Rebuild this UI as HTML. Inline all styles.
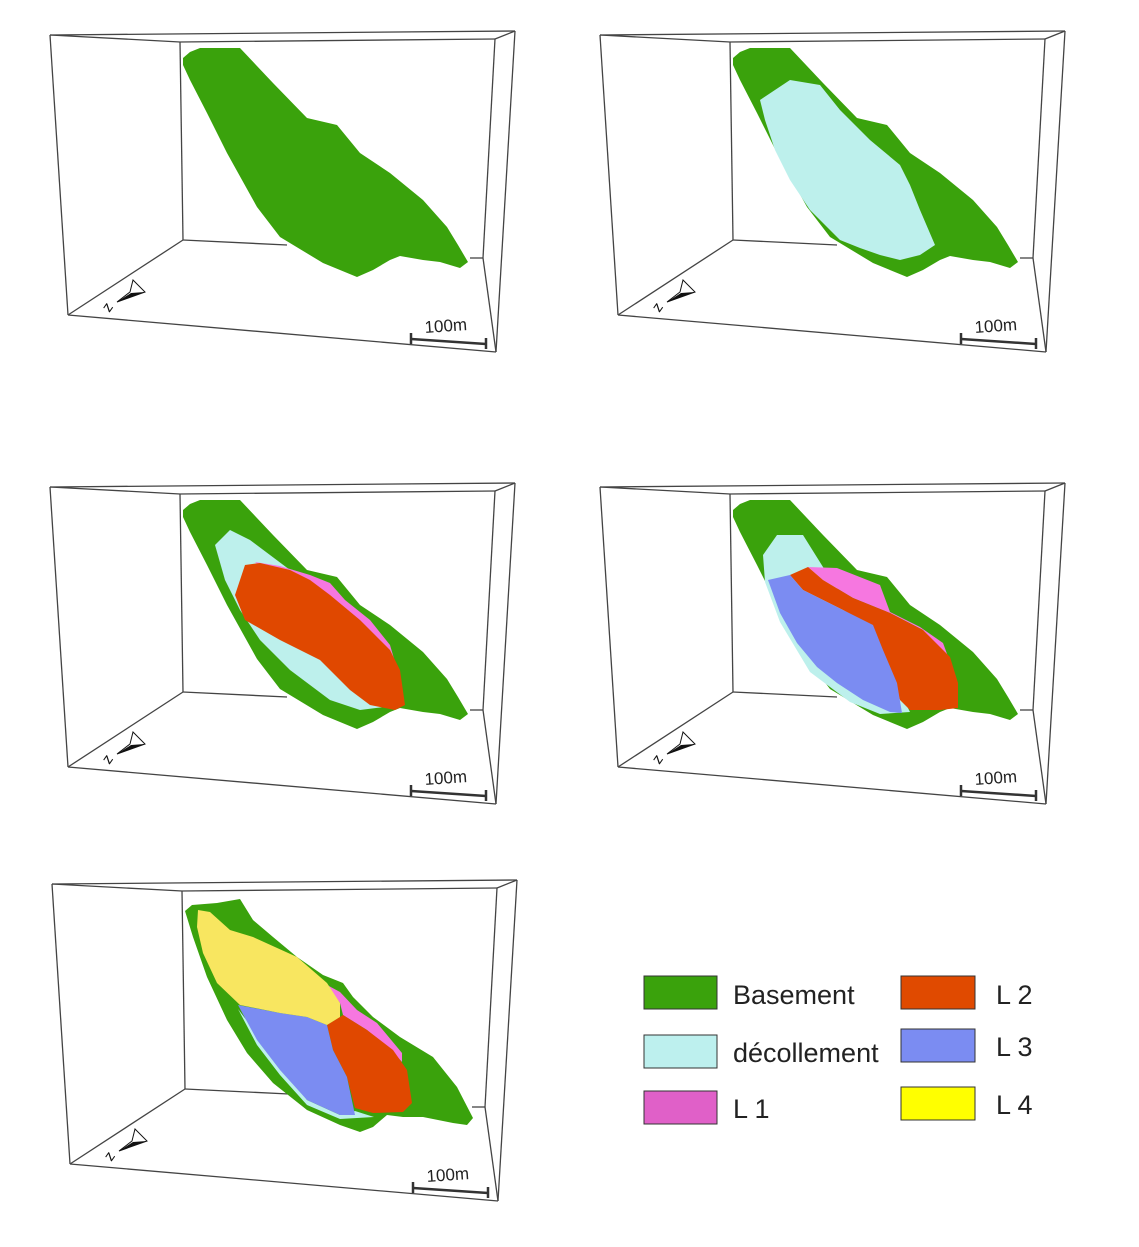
<!DOCTYPE html>
<html><head><meta charset="utf-8"><style>
html,body{margin:0;padding:0;background:#fff;}
svg{display:block;font-family:"Liberation Sans",sans-serif;}
</style></head><body>
<svg id="fig" width="1139" height="1247" viewBox="0 0 1139 1247">
<g id="legend">
  <g><rect x="644" y="976" width="73" height="33" fill="#3aa20c" stroke="#333" stroke-width="1"/><text x="733" y="1004" font-size="27" fill="#222">Basement</text></g>
  <g><rect x="644" y="1035" width="73" height="33" fill="#bdf0ee" stroke="#333" stroke-width="1"/><text x="733" y="1062" font-size="27" fill="#222">décollement</text></g>
  <g><rect x="644" y="1091" width="73" height="33" fill="#e060c8" stroke="#333" stroke-width="1"/><text x="733" y="1118" font-size="27" fill="#222">L 1</text></g>
  <g><rect x="901" y="976" width="74" height="33" fill="#e04a00" stroke="#333" stroke-width="1"/><text x="996" y="1004" font-size="27" fill="#222">L 2</text></g>
  <g><rect x="901" y="1029" width="74" height="33" fill="#7b8cf2" stroke="#333" stroke-width="1"/><text x="996" y="1056" font-size="27" fill="#222">L 3</text></g>
  <g><rect x="901" y="1087" width="74" height="33" fill="#ffff00" stroke="#333" stroke-width="1"/><text x="996" y="1114" font-size="27" fill="#222">L 4</text></g>
</g>
</svg>
<script>
const panelNames = ["panel-basement","panel-decollement","panel-l1-l2","panel-l1-l3","panel-l1-l4"];
const panelOffsets = [[0,0],[550,0],[0,452],[550,452],[2,849]];
const layerColors = {green:"#3aa20c",cyan:"#bdf0ec",pink:"#f677e0",red:"#e04800",blue:"#7b8cf2",yellow:"#f8e660"};
const greenA = [[183,58],[190,52],[200,48],[240,48],[273,83],[307,118],[337,125],[360,153],[390,173],[423,200],[447,227],[458,245],[468,262],[460,268],[440,262],[423,260],[400,256],[390,260],[373,270],[357,277],[323,263],[280,237],[257,207],[227,153],[207,113],[190,80],[183,65]];
const greenB = [[183,62],[190,56],[215,54],[238,50],[251,71],[271,88],[295,108],[321,126],[341,134],[351,148],[371,168],[398,188],[431,208],[455,238],[471,269],[465,276],[451,274],[421,268],[401,268],[385,266],[371,278],[358,283],[338,276],[305,261],[271,234],[245,204],[225,171],[205,128],[191,88]];
const cyan2 = [[210,100],[240,80],[270,85],[290,110],[320,140],[350,165],[360,185],[370,210],[385,245],[370,255],[350,260],[330,255],[310,248],[290,240],[260,210],[240,180],[225,150],[215,120]];
const cyan3 = [[215,93],[230,78],[250,88],[290,118],[330,148],[370,178],[400,228],[400,253],[360,258],[330,248],[290,218],[260,188],[240,158],[225,128]];
const red3 = [[245,113],[260,111],[290,118],[310,128],[330,143],[360,168],[390,198],[400,218],[405,253],[395,258],[370,253],[350,238],[320,208],[280,188],[245,168],[235,143]];
const pink3 = [[255,110],[280,114],[310,123],[330,131],[345,148],[370,168],[390,193],[395,210],[380,198],[360,178],[330,158],[300,138],[270,123]];
const cyan4 = [[213,103],[227,83],[253,83],[273,115],[330,200],[355,250],[360,260],[330,262],[300,250],[260,220],[230,170],[215,130]];
const blue4 = [[218,128],[240,123],[253,138],[293,158],[323,173],[333,198],[347,231],[352,261],[340,260],[313,248],[287,231],[267,215],[247,191],[230,161]];
const red4 = [[240,123],[258,115],[273,128],[303,146],[340,161],[373,178],[400,205],[408,231],[408,256],[390,258],[360,258],[350,248],[340,218],[323,175],[293,158],[253,138]];
const pink4 = [[258,115],[287,116],[330,133],[340,160],[370,175],[393,191],[400,210],[390,205],[373,178],[340,161],[303,146],[273,128]];
const cyan5 = [[236,160],[255,196],[278,226],[305,256],[338,270],[372,268],[353,262],[338,266],[305,251]];
const yellow5 = [[196,61],[208,63],[228,81],[251,88],[295,108],[325,134],[338,154],[338,168],[325,176],[305,168],[278,164],[238,156],[215,134],[201,104],[195,78]];
const blue5 = [[236,156],[278,164],[305,168],[325,176],[331,201],[345,228],[353,266],[338,266],[305,251],[278,221],[255,191]];
const red5 = [[325,176],[341,166],[365,181],[391,201],[405,221],[410,254],[401,263],[371,264],[353,259],[345,228],[331,201]];
const pink5 = [[325,136],[338,143],[355,161],[375,174],[400,204],[400,213],[391,203],[365,181],[341,166],[338,154]];
const panelLayers = [
  [["green",greenA]],
  [["green",greenA],["cyan",cyan2]],
  [["green",greenA],["cyan",cyan3],["pink",pink3],["red",red3]],
  [["green",greenA],["cyan",cyan4],["pink",pink4],["red",red4],["blue",blue4]],
  [["green",greenB],["cyan",cyan5],["pink",pink5],["red",red5],["blue",blue5],["yellow",yellow5]]
];
const NS="http://www.w3.org/2000/svg";
const svg=document.getElementById('fig');
function mk(tag,attrs,parent){const e=document.createElementNS(NS,tag);for(const k in attrs)e.setAttribute(k,attrs[k]);parent.appendChild(e);return e;}
const boxLines=[[50,35,515,31],[515,31,496,352],[496,352,68,315],[68,315,50,35],[50,35,180,42],[180,42,495,39],[515,31,495,39],[495,39,483,258],[180,42,183,240],[183,240,287,245],[470,258,483,258],[68,315,183,240],[496,352,483,258]];
panelOffsets.forEach((off,i)=>{
  const g=mk('g',{transform:`translate(${off[0]},${off[1]})`},svg);
  
  
  const box=mk('g',{stroke:'#444','stroke-width':1.3,fill:'none'},g);
  
  
  boxLines.forEach(l=>mk('line',{x1:l[0],y1:l[1],x2:l[2],y2:l[3]},box));
  panelLayers[i].forEach(([c,pts])=>{
    const p=mk('polygon',{points:pts.map(q=>q.join(',')).join(' '),fill:layerColors[c]},g);
    
    
  });
  const sb=mk('g',{stroke:'#333','stroke-width':2.5,fill:'none'},g);
  
  
  mk('line',{x1:411,y1:339,x2:486,y2:344},sb);
  mk('line',{x1:411,y1:333,x2:411,y2:344},sb);
  mk('line',{x1:486,y1:338,x2:486,y2:349},sb);
  const t=mk('text',{x:425,y:333,'font-size':17,fill:'#222',transform:'rotate(-4 425 333)'},g);
  t.textContent='100m';
  
  
  const na=mk('g',{},g);
  
  
  mk('polygon',{points:'145,292 117,302 130,292 133,280',fill:'#fff',stroke:'#111','stroke-width':1},na);
  mk('polygon',{points:'145,292 117,302 131,293',fill:'#111'},na);
  const z=mk('text',{x:103,y:311,'font-size':15,fill:'#111',transform:'rotate(-55 108 306)'},na);
  z.textContent='z';
});
</script>
</body></html>
